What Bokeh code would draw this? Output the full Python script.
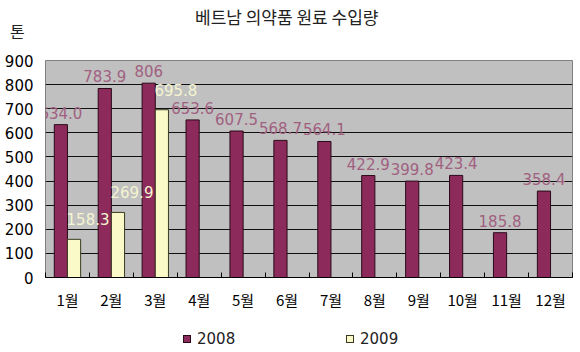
from bokeh.plotting import figure
from bokeh.models import Range1d, FixedTicker, ColumnDataSource, Div
from bokeh.layouts import column
from bokeh.core.properties import value
from bokeh.embed import file_html
from bokeh.resources import INLINE

months = ["1월", "2월", "3월", "4월", "5월", "6월", "7월", "8월", "9월", "10월", "11월", "12월"]
v2008 = [634.0, 783.9, 806, 653.6, 607.5, 568.7, 564.1, 422.9, 399.8, 423.4, 185.8, 358.4]
t2008 = ["634.0", "783.9", "806", "653.6", "607.5", "568.7", "564.1", "422.9", "399.8", "423.4", "185.8", "358.4"]
v2009 = [158.3, 269.9, 695.8]
t2009 = ["158.3", "269.9", "695.8"]
y_ticks = [0, 100, 200, 300, 400, 500, 600, 700, 800, 900]
series_names = ["2008", "2009"]
title_text = "베트남 의약품 원료 수입량"
unit_text = "톤"

FONT = "Noto Sans CJK KR"
NUMFONT = "DejaVu Sans"
C2008 = "#8B2A5B"
C2009 = "#FAFAC8"
E2008 = "#2a0a18"
E2009 = "#3a3a20"

centers = [i + 0.5 for i in range(len(months))]
bw = 0.3

src08 = ColumnDataSource(dict(x=[c - bw / 2 for c in centers], top=v2008, t=t2008))
src09 = ColumnDataSource(dict(x=[centers[i] + bw / 2 for i in range(len(v2009))], top=v2009, t=t2009))

p = figure(frame_width=527, frame_height=217, output_backend="svg", toolbar_location=None,
           x_range=Range1d(0, len(months)), y_range=Range1d(y_ticks[0], y_ticks[-1]),
           min_border_left=45, min_border_right=8, min_border_top=8, min_border_bottom=40,
           title=None, margin=0)
p.background_fill_color = "#c0c0c0"
p.border_fill_color = "white"
p.outline_line_color = "#808080"

p.vbar(x="x", top="top", width=bw, source=src08, fill_color=C2008, line_color=E2008, line_width=1)
p.vbar(x="x", top="top", width=bw, source=src09, fill_color=C2009, line_color=E2009, line_width=1)

p.text(x="x", y="top", text="t", source=src08, text_align="center", text_baseline="bottom",
       y_offset=-6, text_color="#A06080", text_font=value(NUMFONT), text_font_size="15px")
p.text(x="x", y="top", text="t", source=src09, text_align="center", text_baseline="bottom",
       x_offset=14, y_offset=-14, text_color="#F4F4D0", text_font=value(NUMFONT), text_font_size="15px")

# axes
p.xaxis.ticker = FixedTicker(ticks=centers, minor_ticks=list(range(len(months) + 1)))
p.xaxis.major_label_overrides = {c: m for c, m in zip(centers, months)}
p.xaxis.major_tick_line_color = None
p.xaxis.major_tick_in = 0
p.xaxis.major_tick_out = 0
p.xaxis.minor_tick_in = 5
p.xaxis.minor_tick_out = 0
p.xaxis.minor_tick_line_color = "black"
p.xaxis.axis_line_color = "black"
p.xaxis.major_label_text_font = FONT
p.xaxis.major_label_text_font_size = "15px"
p.xaxis.major_label_text_color = "black"
p.xaxis.major_label_standoff = 11

p.yaxis.ticker = FixedTicker(ticks=y_ticks)
p.yaxis.major_tick_line_color = None
p.yaxis.major_tick_in = 0
p.yaxis.major_tick_out = 0
p.yaxis.minor_tick_line_color = None
p.yaxis.axis_line_color = None
p.yaxis.major_label_text_font = NUMFONT
p.yaxis.major_label_text_font_size = "15px"
p.yaxis.major_label_text_color = "black"
p.yaxis.major_label_standoff = 12

p.xgrid.grid_line_color = None
p.ygrid.ticker = FixedTicker(ticks=y_ticks[1:-1])
p.ygrid.grid_line_color = "#101010"
p.ygrid.grid_line_width = 1

# header: title and unit
header_html = (
    '<div style="position:relative;width:580px;height:52px;font-family:\'Noto Sans CJK KR\';color:#222;">'
    f'<span style="position:absolute;left:195px;top:8px;font-size:17px;line-height:1;white-space:nowrap;">{title_text}</span>'
    f'<span style="position:absolute;left:10px;top:23px;font-size:16px;line-height:1;">{unit_text}</span>'
    '</div>'
)
header = Div(text=header_html, width=580, height=52, margin=0)

# legend row
def legend_item(left, name, fill, edge):
    return (f'<span style="position:absolute;left:{left}px;top:18px;width:8px;height:8px;'
            f'background:{fill};border:1px solid {edge};"></span>'
            f'<span style="position:absolute;left:{left + 14}px;top:15px;font-size:15px;line-height:1;'
            f'font-family:\'DejaVu Sans\';color:#222;">{name}</span>')

legend_html = ('<div style="position:relative;width:580px;height:35px;">'
               + legend_item(183, series_names[0], C2008, E2008)
               + legend_item(346, series_names[1], C2009, E2009)
               + '</div>')
legend = Div(text=legend_html, width=580, height=35, margin=0)

layout = column(header, p, legend, spacing=0)

open("out.html", "w").write(file_html(layout, INLINE))
